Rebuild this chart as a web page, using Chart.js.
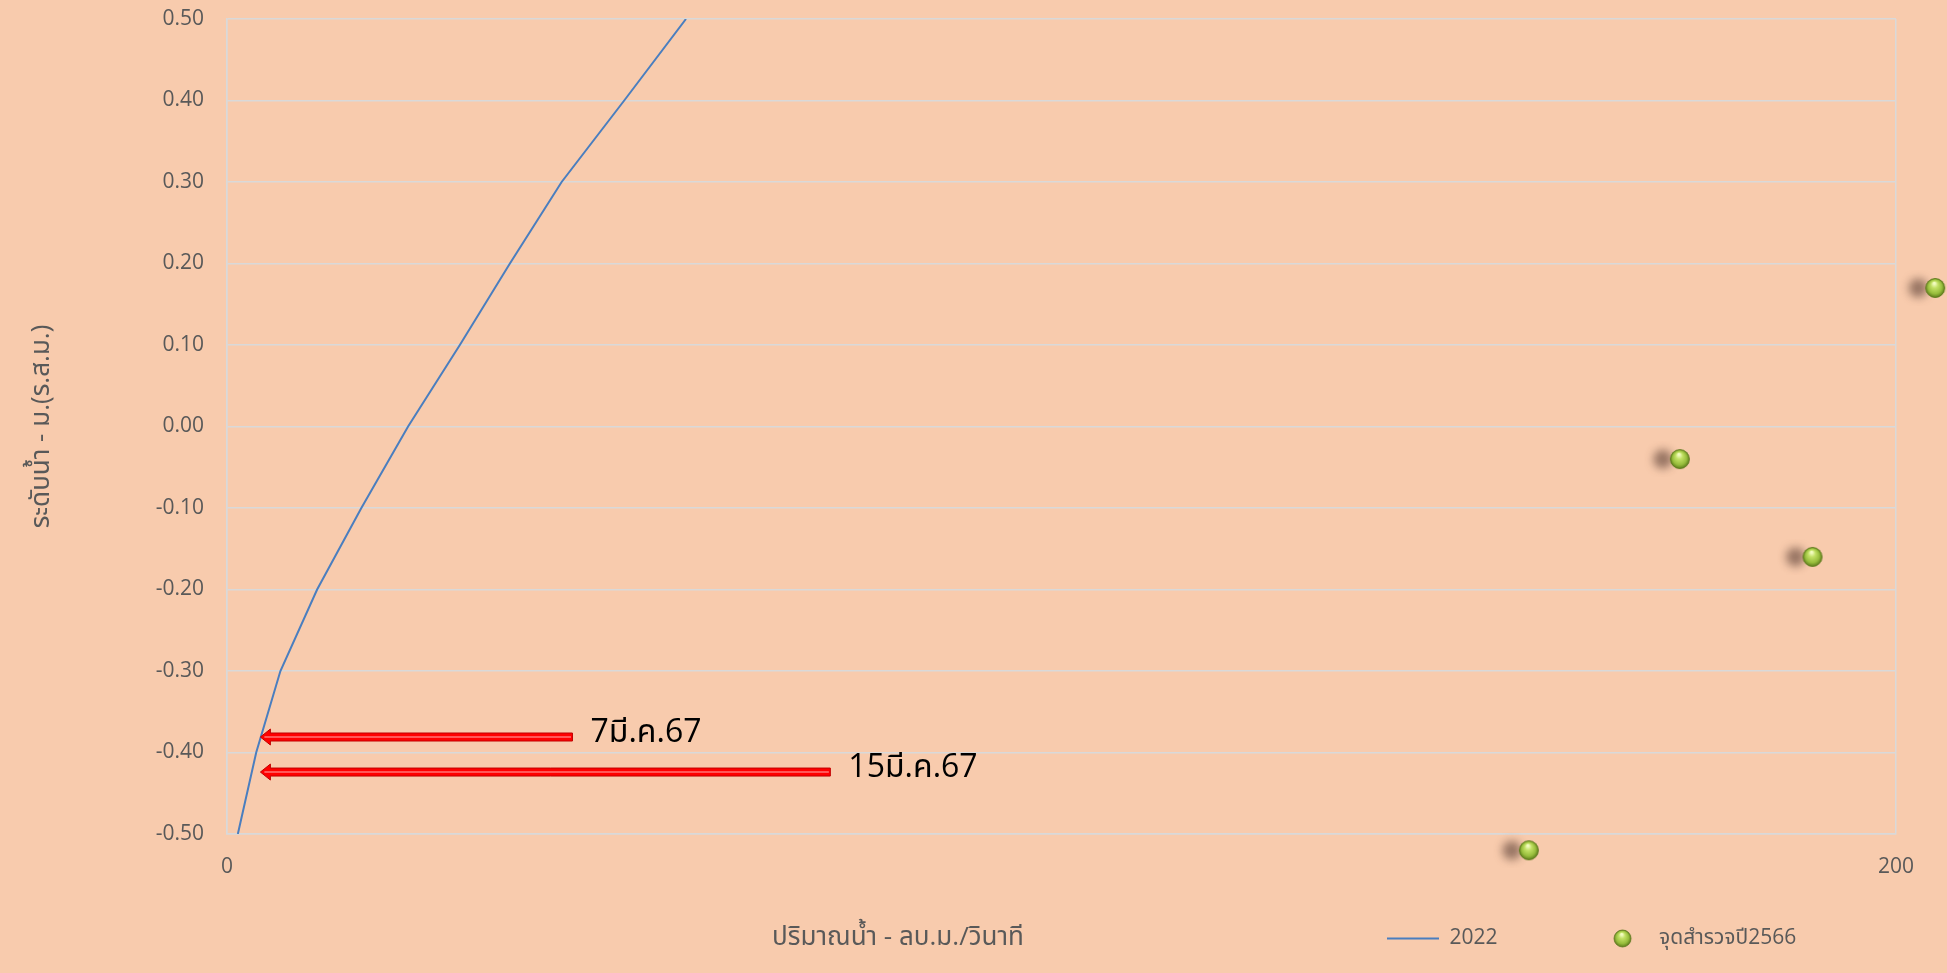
<!DOCTYPE html>
<html>
<head>
<meta charset="utf-8">
<title>rating curve</title>
<script src="https://cdn.jsdelivr.net/npm/chart.js@4.4.1/dist/chart.umd.min.js"></script>
<style>
  html, body { margin: 0; padding: 0; background: #f8cbad; overflow: hidden; }
  canvas { display: block; }
</style>
</head>
<body>
<canvas id="myChart" width="1947" height="973"></canvas>
<script>
// 2022 rating curve (level in m MSL vs discharge in cms)
const curveLevels = [-0.5, -0.4, -0.3, -0.2, -0.1, 0, 0.1, 0.2, 0.3, 0.4, 0.5];
const curveFlows = [1.3, 3.5, 6.4, 10.8, 16.1, 21.7, 27.9, 33.9, 40.1, 47.6, 55.0];

// survey points 2566
const surveyFlows = [174.1, 190.0, 204.7, 156.0];
const surveyLevels = [-0.04, -0.16, 0.17, -0.52];

// red arrow notes
const noteLabels = ['7มี.ค.67', '15มี.ค.67'];
const noteLevels = [-0.381, -0.424];
const noteTipFlows = [4.0, 4.0];
const noteTailFlows = [41.4, 72.3];

const seriesNames = ['2022', 'จุดสำรวจปี2566'];
const xTitle = 'ปริมาณน้ำ - ลบ.ม./วินาที';
const yTitle = 'ระดับน้ำ - ม.(ร.ส.ม.)';
const xTicks = [0, 200];
const yTicks = [-0.5, -0.4, -0.3, -0.2, -0.1, 0, 0.1, 0.2, 0.3, 0.4, 0.5];

const FONT = '"Open Sans", "Noto Sans Thai", "Noto Sans", sans-serif';
const GREY = '#595959';
const GRID = '#d9d9d9';
const BLUE = '#4a7ebf';

function makeBall(r, withShadow) {
  const c = document.createElement('canvas');
  c.width = withShadow ? 72 : 2 * r + 4;
  c.height = withShadow ? 36 : 2 * r + 4;
  const ctx = c.getContext('2d');
  const cx = c.width / 2, cy = c.height / 2;
  if (withShadow) {
    ctx.save();
    ctx.shadowColor = 'rgba(100,70,60,0.65)';
    ctx.shadowBlur = 9;
    ctx.shadowOffsetX = -17;
    ctx.fillStyle = '#8cb035';
    ctx.beginPath(); ctx.arc(cx, cy, r, 0, Math.PI * 2); ctx.fill();
    ctx.restore();
  }
  const g = ctx.createRadialGradient(cx - r * 0.1, cy - r * 0.5, r * 0.1, cx, cy, r);
  g.addColorStop(0, '#f2fcc0');
  g.addColorStop(0.3, '#c2e064');
  g.addColorStop(0.72, '#97bd3c');
  g.addColorStop(1, '#5f7d1c');
  ctx.fillStyle = g;
  ctx.beginPath(); ctx.arc(cx, cy, r, 0, Math.PI * 2); ctx.fill();
  ctx.lineWidth = 0.8; ctx.strokeStyle = '#5a761c'; ctx.stroke();
  return c;
}
const ballMark = makeBall(9.5, true);
const ballIcon = makeBall(8.5, false);

// legend sits on the same line as the x title, so it takes no layout room
const legendSpot = {
  id: 'legendSpot',
  afterInit(chart) {
    const lg = chart.legend;
    const fit = lg.fit;
    lg.fit = function () { fit.call(this); this.height = 0; };
  },
  afterLayout(chart) {
    const lg = chart.legend;
    const pad = 99;
    lg.left = 1387 - pad;
    lg.right = chart.width + 400;
    lg.top = 938.5 - pad - 10.5;
    lg.bottom = lg.top + pad + 60;
  }
};

const xTitleDraw = {
  id: 'xTitleDraw',
  afterDraw(chart) {
    const {ctx, scales: {x}, chartArea} = chart;
    ctx.save();
    ctx.font = '26px ' + FONT;
    ctx.fillStyle = GREY;
    ctx.textAlign = 'center';
    ctx.textBaseline = 'middle';
    ctx.fillText(xTitle, x.getPixelForValue(80.4), chartArea.bottom + 104);
    ctx.restore();
  }
};

const arrowNotes = {
  id: 'arrowNotes',
  afterDatasetsDraw(chart) {
    const {ctx, scales: {x, y}} = chart;
    noteLabels.forEach((label, i) => {
      const py = y.getPixelForValue(noteLevels[i]);
      const tip = x.getPixelForValue(noteTipFlows[i]);
      const tail = x.getPixelForValue(noteTailFlows[i]);
      const head = 10, half = 8, shaft = 4;
      ctx.save();
      ctx.beginPath();
      ctx.moveTo(tip, py);
      ctx.lineTo(tip + head, py - half);
      ctx.lineTo(tip + head, py - shaft);
      ctx.lineTo(tail, py - shaft);
      ctx.lineTo(tail, py + shaft);
      ctx.lineTo(tip + head, py + shaft);
      ctx.lineTo(tip + head, py + half);
      ctx.closePath();
      ctx.fillStyle = '#ff0000';
      ctx.fill();
      ctx.strokeStyle = '#c00000';
      ctx.lineWidth = 1;
      ctx.stroke();
      ctx.beginPath();
      ctx.moveTo(tip + 4, py);
      ctx.lineTo(tail - 1.5, py);
      ctx.strokeStyle = 'rgba(255,130,130,0.9)';
      ctx.lineWidth = 1.5;
      ctx.stroke();
      ctx.fillStyle = '#000000';
      ctx.font = '32px ' + FONT;
      ctx.textAlign = 'left';
      ctx.textBaseline = 'middle';
      ctx.fillText(label, tail + 18, py - 4);
      ctx.restore();
    });
  }
};

const ctx = document.getElementById('myChart');
new Chart(ctx, {
  type: 'scatter',
  data: {
    datasets: [
      {
        label: seriesNames[0],
        data: curveFlows.map((q, i) => ({ x: q, y: curveLevels[i] })),
        showLine: true,
        borderColor: BLUE,
        backgroundColor: BLUE,
        borderWidth: 2,
        pointRadius: 0,
        tension: 0
      },
      {
        label: seriesNames[1],
        data: surveyFlows.map((q, i) => ({ x: q, y: surveyLevels[i] })),
        pointStyle: ballMark,
        // large radius only so marks just outside the plot area still get drawn
        pointRadius: 48,
        clip: false
      }
    ]
  },
  options: {
    responsive: false,
    animation: false,
    events: [],
    layout: { autoPadding: false, padding: { top: 19, right: 51, bottom: 0, left: 0 } },
    scales: {
      x: {
        type: 'linear',
        min: xTicks[0],
        max: xTicks[xTicks.length - 1],
        afterBuildTicks: s => { s.ticks = xTicks.map(v => ({ value: v })); },
        afterFit: s => { s.height = 139; },
        grid: { color: GRID, lineWidth: 1.5, drawTicks: false },
        border: { color: GRID, width: 1.5 },
        ticks: { color: GREY, font: { family: FONT, size: 21 }, padding: 20 }
      },
      y: {
        type: 'linear',
        min: yTicks[0],
        max: yTicks[yTicks.length - 1],
        afterBuildTicks: s => { s.ticks = yTicks.map(v => ({ value: v })); },
        afterFit: s => { s.width = 227; },
        grid: { color: GRID, lineWidth: 1.5, drawTicks: true, tickLength: 23, tickColor: 'rgba(0,0,0,0)' },
        border: { color: GRID, width: 1.5 },
        title: {
          display: true,
          text: yTitle,
          color: GREY,
          font: { family: FONT, size: 26 },
          padding: { top: 26, bottom: 0 }
        },
        ticks: {
          color: GREY,
          font: { family: FONT, size: 21 },
          padding: 0,
          callback: v => (Math.abs(v) < 1e-9 ? 0 : v).toFixed(2)
        }
      }
    },
    plugins: {
      tooltip: { enabled: false },
      legend: {
        display: true,
        position: 'bottom',
        align: 'start',
        labels: {
          usePointStyle: true,
          pointStyleWidth: 52,
          padding: 99,
          color: GREY,
          font: { family: FONT, size: 21 },
          generateLabels: () => [
            { text: seriesNames[0], pointStyle: 'line', strokeStyle: BLUE, fillStyle: BLUE, fontColor: GREY, lineWidth: 2, datasetIndex: 0 },
            { text: seriesNames[1], pointStyle: ballIcon, fillStyle: '#97bd3c', strokeStyle: '#97bd3c', fontColor: GREY, lineWidth: 0, datasetIndex: 1 }
          ]
        }
      }
    }
  },
  plugins: [legendSpot, xTitleDraw, arrowNotes]
});
</script>
</body>
</html>
